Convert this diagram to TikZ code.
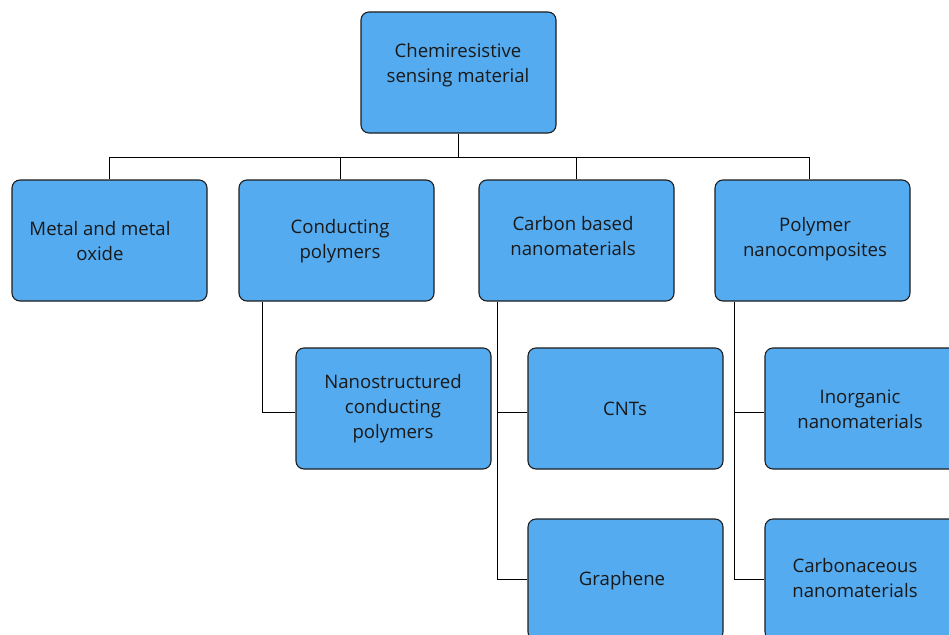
\documentclass[tikz,border=0pt]{standalone}
\usepackage{fontspec}
\setmainfont{Open Sans}
\definecolor{boxblue}{RGB}{84,171,240}
\definecolor{edge}{RGB}{30,30,30}
\begin{document}
\begin{tikzpicture}[x=1pt,y=-1pt,
  box/.style={draw=edge,fill=boxblue,line width=1.1pt,rounded corners=8pt,minimum width=195pt,minimum height=121pt,inner sep=0pt},
  txt/.style={align=center,font=\fontsize{18.6}{25}\selectfont,text=black!90,inner sep=0pt},
  conn/.style={draw=black,line width=1pt}]
\useasboundingbox (0,0) rectangle (949,634);
\clip (0,0) rectangle (949,634);
\fill[white] (0,0) rectangle (949,634);
% boxes
\node[box] (root) at (458.5,72.5) {};
\node[box] (metal) at (109.5,240.5) {};
\node[box] (cond) at (336.5,240.5) {};
\node[box] (carbon) at (576.5,240.5) {};
\node[box] (poly) at (812.5,240.5) {};
\node[box] (nano) at (393.5,408.5) {};
\node[box] (cnts) at (625.5,408.5) {};
\node[box] (inorg) at (862.5,408.5) {};
\node[box] (graph) at (625.5,579.5) {};
\node[box] (carbo) at (862.5,579.5) {};
% texts
\node[txt] (rootT) at (458,65) {Chemiresistive\\sensing material};
\node[txt] (metalT) at (100,241) {Metal and metal\\oxide};
\node[txt] (condT) at (340,241) {Conducting\\polymers};
\node[txt] (carbonT) at (573,236) {Carbon based\\nanomaterials};
\node[txt] (polyT) at (815,239) {Polymer\\nanocomposites};
\node[txt] (nanoT) at (393,409) {Nanostructured\\conducting\\polymers};
\node[txt] (cntsT) at (625,409) {CNTs};
\node[txt] (inorgT) at (860,409) {Inorganic\\nanomaterials};
\node[txt] (graphT) at (622,581) {Graphene};
\node[txt] (carboT) at (855,578) {Carbonaceous\\nanomaterials};
% connectors
\coordinate (bus) at (0,157);
\draw[conn] (root.south) -- (root.south |- bus);
\draw[conn] (metal.north) -- (metal.north |- bus) -| ([xshift=-3.5pt]poly.north);
\draw[conn] ([xshift=3.5pt]cond.north) -- ([xshift=3.5pt]cond.north |- bus);
\draw[conn] (carbon.north) -- (carbon.north |- bus);
\coordinate (condS) at ([xshift=-74.5pt]cond.south);
\coordinate (carbonS) at ([xshift=-79.5pt]carbon.south);
\coordinate (polyS) at ([xshift=-78.5pt]poly.south);
\draw[conn] (condS) |- ([yshift=-3.5pt]nano.west);
\draw[conn] (carbonS) |- (graph.west);
\draw[conn] ([yshift=-3.5pt]cnts.west) -- ([yshift=-3.5pt]cnts.west -| carbonS);
\draw[conn] (polyS) |- (carbo.west);
\draw[conn] ([yshift=-3.5pt]inorg.west) -- ([yshift=-3.5pt]inorg.west -| polyS);
\end{tikzpicture}
\end{document}
